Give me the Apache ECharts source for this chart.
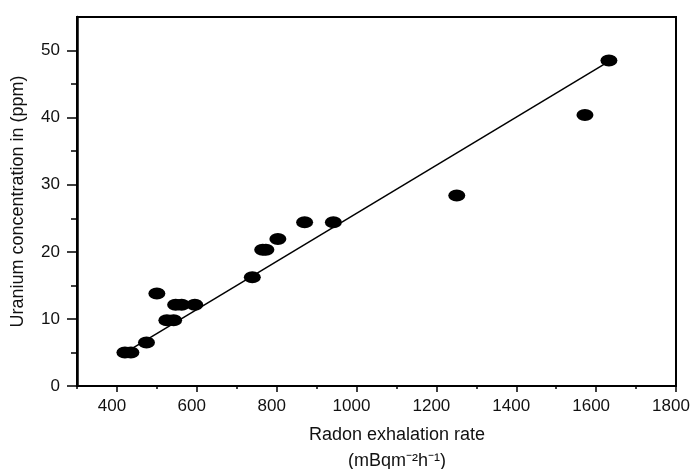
<!DOCTYPE html>
<html>
<head>
<meta charset="utf-8">
<script src="https://cdn.jsdelivr.net/npm/echarts@6/dist/echarts.min.js"></script>
<style>html,body{margin:0;padding:0;background:#fff}#c{width:690px;height:469px}</style>
</head>
<body>
<div id="c"></div>
<script>
var radon = [420, 435, 474, 500, 525, 542, 547, 562, 595, 739, 765, 773, 803, 870, 942, 1251, 1572, 1632];
var uranium = [5.0, 5.0, 6.5, 13.8, 9.8, 9.8, 12.1, 12.1, 12.1, 16.2, 20.3, 20.3, 21.9, 24.4, 24.4, 28.4, 40.4, 48.5];
var fitX = [430, 1632];
var fitY = [5.3, 48.4];
var xTicks = [400, 600, 800, 1000, 1200, 1400, 1600, 1800];
var xMinorTicks = [300, 500, 700, 900, 1100, 1300, 1500, 1700];
var yTicks = [0, 10, 20, 30, 40, 50];
var yMinorTicks = [5, 15, 25, 35, 45];
var xTitle = 'Radon exhalation rate\n(mBqm\u207B\u00B2h\u207B\u00B9)';
var yTitle = 'Uranium concentration in (ppm)';

var chart = echarts.init(document.getElementById('c'));
var font = 'Liberation Sans, Arial, Helvetica, sans-serif';
var black = '#000';
chart.setOption({
  animation: false,
  backgroundColor: '#fff',
  grid: { left: 77, right: 14, top: 17, bottom: 83, outerBoundsMode: 'none', containLabel: false,
    show: true, borderColor: black, borderWidth: 2, backgroundColor: 'transparent' },
  xAxis: [{
    type: 'value', min: 300, max: 1800, interval: 100,
    axisLine: { lineStyle: { color: black, width: 2 } },
    axisTick: { length: 6, customValues: xTicks, lineStyle: { color: black, width: 1.5 } },
    splitLine: { show: false },
    axisLabel: { color: '#111', fontSize: 17, fontFamily: font, margin: 12, customValues: xTicks,
      padding: [0, 10, 0, 0], formatter: function (v) { return String(v); } },
    name: xTitle, nameLocation: 'middle', nameGap: 36,
    nameTextStyle: { color: '#111', fontSize: 18, fontFamily: font, lineHeight: 26, padding: [0, 0, 0, 41] }
  }, {
    type: 'value', min: 300, max: 1800, interval: 100, position: 'bottom',
    axisLine: { show: false },
    axisTick: { length: 3, customValues: xMinorTicks, lineStyle: { color: black, width: 1.5 } },
    axisLabel: { show: false }, splitLine: { show: false }
  }],
  yAxis: [{
    type: 'value', min: 0, max: 55, interval: 5,
    axisLine: { lineStyle: { color: black, width: 2.5 } },
    axisTick: { length: 10, customValues: yTicks, lineStyle: { color: black, width: 1.5 } },
    splitLine: { show: false },
    axisLabel: { color: '#111', fontSize: 17, fontFamily: font, margin: 17, customValues: yTicks },
    name: yTitle, nameLocation: 'middle', nameGap: 50,
    nameTextStyle: { color: '#111', fontSize: 18, fontFamily: font }
  }, {
    type: 'value', min: 0, max: 55, interval: 5, position: 'left',
    axisLine: { show: false },
    axisTick: { length: 6, customValues: yMinorTicks, lineStyle: { color: black, width: 1.5 } },
    axisLabel: { show: false }, splitLine: { show: false }
  }],
  series: [
    {
      type: 'line',
      data: fitX.map(function (x, i) { return [x, fitY[i]]; }),
      symbol: 'none',
      lineStyle: { color: black, width: 1.5 },
      z: 2
    },
    {
      type: 'scatter',
      data: radon.map(function (x, i) { return [x, uranium[i]]; }),
      symbol: 'circle',
      symbolSize: [17, 12],
      itemStyle: { color: black, opacity: 1 },
      z: 3
    }
  ]
});
</script>
</body>
</html>
